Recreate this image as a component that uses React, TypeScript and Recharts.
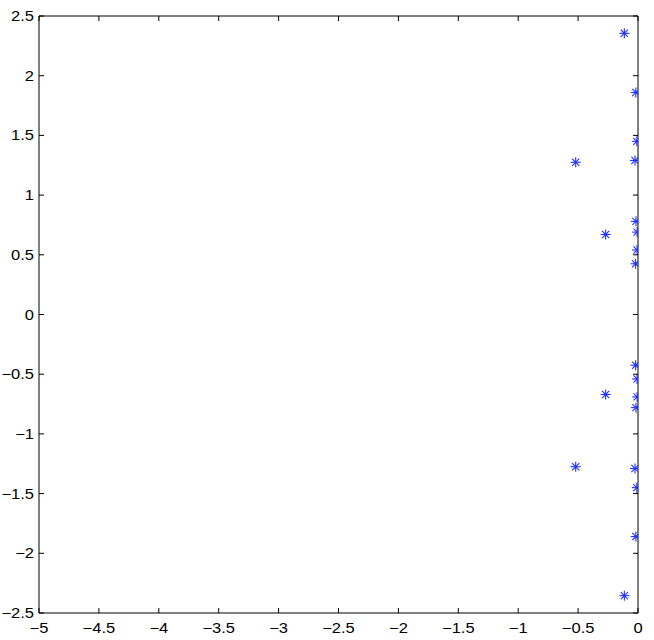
import { ScatterChart, Scatter, XAxis, YAxis } from "recharts";

// roots: real parts and imaginary parts (conjugate pairs)
const realParts = [-0.114, -0.018, -0.01, -0.025, -0.52, -0.017, -0.007, -0.27, -0.008, -0.02];
const imagParts = [2.355, 1.86, 1.45, 1.29, 1.275, 0.78, 0.69, 0.67, 0.54, 0.425];

const xTicks = [-5, -4.5, -4, -3.5, -3, -2.5, -2, -1.5, -1, -0.5, 0];
const yTicks = [-2.5, -2, -1.5, -1, -0.5, 0, 0.5, 1, 1.5, 2, 2.5];

const points = realParts.flatMap((re, i) => [
  { x: re, y: imagParts[i] },
  { x: re, y: -imagParts[i] },
]);

const FONT = "'Liberation Sans', Arial, Helvetica, sans-serif";
const TICK_LEN = 5;

const fmt = (v: number) => String(v).replace("-", "\u2212");

const Label = ({ x, y, anchor, children }: any) => (
  <g transform={`translate(${x},${y}) scale(1.18,1)`}>
    <text x={0} y={0} textAnchor={anchor} dominantBaseline="central" fontSize={14} fontFamily={FONT} fill="#000">
      {children}
    </text>
  </g>
);

const BottomTick = ({ x, y, payload }: any) => (
  <g>
    <line x1={x} y1={y} x2={x} y2={y - TICK_LEN} stroke="#000" />
    <Label x={x} y={y + 15} anchor="middle">{fmt(payload.value)}</Label>
  </g>
);

const LeftTick = ({ x, y, payload }: any) => (
  <g>
    <line x1={x} y1={y} x2={x + TICK_LEN} y2={y} stroke="#000" />
    <Label x={x - 5} y={y} anchor="end">{fmt(payload.value)}</Label>
  </g>
);

const TopTick = ({ x, y }: any) => <line x1={x} y1={y} x2={x} y2={y + TICK_LEN} stroke="#000" />;
const RightTick = ({ x, y }: any) => <line x1={x} y1={y} x2={x - TICK_LEN} y2={y} stroke="#000" />;

const Star = ({ cx, cy }: any) => {
  const r = 5;
  const d = r * 0.72;
  return (
    <g stroke="#1f2fff" strokeWidth={1.1}>
      <line x1={cx - r} y1={cy} x2={cx + r} y2={cy} />
      <line x1={cx} y1={cy - r} x2={cx} y2={cy + r} />
      <line x1={cx - d} y1={cy - d} x2={cx + d} y2={cy + d} />
      <line x1={cx - d} y1={cy + d} x2={cx + d} y2={cy - d} />
    </g>
  );
};

const Nothing = () => <g />;

export default function App() {
  return (
    <div style={{ position: "absolute", left: 0, top: 0, background: "#fff" }}>
      <ScatterChart width={654} height={640} margin={{ top: 15, right: 15, left: 0, bottom: 0 }}>
        <XAxis
          xAxisId="b"
          type="number"
          dataKey="x"
          domain={[-5, 0]}
          ticks={xTicks}
          height={27}
          tickSize={0}
          tickMargin={0}
          tickLine={false}
          axisLine={{ stroke: "#000" }}
          tick={<BottomTick />}
          allowDataOverflow
        />
        <XAxis
          xAxisId="t"
          orientation="top"
          type="number"
          dataKey="x"
          domain={[-5, 0]}
          ticks={xTicks}
          height={1}
          tickSize={0}
          tickMargin={0}
          tickLine={false}
          axisLine={{ stroke: "#000" }}
          tick={<TopTick />}
          allowDataOverflow
        />
        <YAxis
          yAxisId="l"
          type="number"
          dataKey="y"
          domain={[-2.5, 2.5]}
          ticks={yTicks}
          width={39}
          tickSize={0}
          tickMargin={0}
          tickLine={false}
          axisLine={{ stroke: "#000" }}
          tick={<LeftTick />}
          allowDataOverflow
        />
        <YAxis
          yAxisId="r"
          orientation="right"
          type="number"
          dataKey="y"
          domain={[-2.5, 2.5]}
          ticks={yTicks}
          width={1}
          tickSize={0}
          tickMargin={0}
          tickLine={false}
          axisLine={{ stroke: "#000" }}
          tick={<RightTick />}
          allowDataOverflow
        />
        <Scatter data={points} xAxisId="t" yAxisId="r" shape={<Nothing />} isAnimationActive={false} />
        <Scatter data={points} xAxisId="b" yAxisId="l" shape={<Star />} isAnimationActive={false} />
      </ScatterChart>
    </div>
  );
}
